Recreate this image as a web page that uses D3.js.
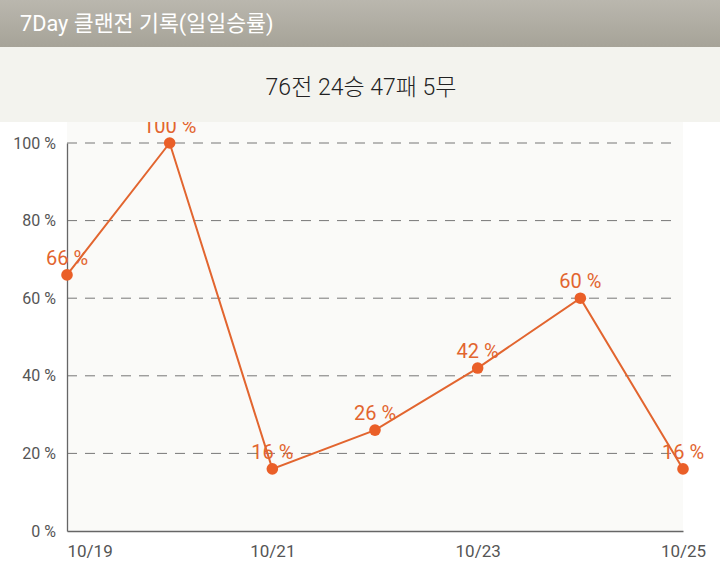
<!DOCTYPE html>
<html>
<head>
<meta charset="utf-8">
<script src="https://cdn.jsdelivr.net/npm/d3@7"></script>
<style>
  body { margin: 0; background: #fff; }
  text { font-family: Roboto, "Noto Sans CJK KR", sans-serif; }
</style>
</head>
<body>
<div id="main"></div>
<script>
var W = 720, H = 582;

var titleText = "7Day 클랜전 기록(일일승률)";
var summaryText = "76전 24승 47패 5무";
var days = ["10/19", "10/20", "10/21", "10/22", "10/23", "10/24", "10/25"];
var winRate = [66, 100, 16, 26, 42, 60, 16];
var yTicks = [0, 20, 40, 60, 80, 100];
var xTickDays = ["10/19", "10/21", "10/23", "10/25"];

var margin = { top: 143, right: 37, bottom: 51, left: 67 },
  width = W - margin.left - margin.right,
  height = H - margin.top - margin.bottom;

var orange = "#e2652f";

var svg = d3.select("#main").append("svg")
  .attr("width", W)
  .attr("height", H);

var defs = svg.append("defs");
var grad = defs.append("linearGradient")
  .attr("id", "hdr").attr("x1", 0).attr("y1", 0).attr("x2", 0).attr("y2", 1);
grad.append("stop").attr("offset", "0%").attr("stop-color", "#bab7ae");
grad.append("stop").attr("offset", "100%").attr("stop-color", "#a6a398");

defs.append("clipPath").attr("id", "chartClip")
  .append("rect").attr("x", 0).attr("y", 122).attr("width", W).attr("height", H - 122);

var chart = svg.append("g").attr("clip-path", "url(#chartClip)");
var g = chart.append("g")
  .attr("transform", "translate(" + margin.left + "," + margin.top + ")");

var x = d3.scalePoint().domain(days).range([0, width]);
var y = d3.scaleLinear().domain([0, 100]).range([height, 0]);

// plot background
g.append("rect")
  .attr("x", 0).attr("y", y(100) - 22)
  .attr("width", width).attr("height", height + 22)
  .attr("fill", "#fafaf8");

// dashed grid
g.selectAll(".grid").data(yTicks.filter(d => d > 0)).enter()
  .append("line")
  .attr("x1", 0).attr("x2", width - 6)
  .attr("y1", d => y(d)).attr("y2", d => y(d))
  .attr("stroke", "#777")
  .attr("stroke-width", 1)
  .attr("stroke-dasharray", "10,8");

// axes
var yAxis = g.append("g")
  .call(d3.axisLeft(y).tickValues(yTicks).tickSize(0).tickPadding(11).tickFormat(d => d + " %"));
yAxis.select(".domain").attr("stroke", "#666").attr("stroke-width", 1.3);
yAxis.selectAll("text").attr("fill", "#555").style("font-size", "16px");

var xAxis = g.append("g")
  .attr("transform", "translate(0," + height + ")")
  .call(d3.axisBottom(x).tickValues(xTickDays).tickSize(0).tickPadding(14));
xAxis.select(".domain").attr("stroke", "#666").attr("stroke-width", 1.3);
xAxis.selectAll("text").attr("fill", "#555").style("font-size", "17px")
  .attr("text-anchor", (d, i) => i === 0 ? "start" : "middle");

// line
var pts = days.map((d, i) => ({ day: d, v: winRate[i] }));
g.append("path")
  .datum(pts)
  .attr("fill", "none")
  .attr("stroke", orange)
  .attr("stroke-width", 2)
  .attr("d", d3.line().x(d => x(d.day)).y(d => y(d.v)));

g.selectAll(".dot").data(pts).enter()
  .append("circle")
  .attr("cx", d => x(d.day)).attr("cy", d => y(d.v))
  .attr("r", 5.8)
  .attr("fill", "#ea5f28");

g.selectAll(".lbl").data(pts).enter()
  .append("text")
  .attr("x", d => x(d.day)).attr("y", d => y(d.v) - 10)
  .attr("text-anchor", "middle")
  .attr("fill", orange)
  .style("font-size", "20px")
  .text(d => d.v + " %");

// header
svg.append("rect").attr("x", 0).attr("y", 0).attr("width", W).attr("height", 47).attr("fill", "url(#hdr)");
svg.append("text")
  .attr("x", 20).attr("y", 31)
  .attr("fill", "#fff")
  .style("font-size", "21.7px")
  .text(titleText);

// summary band
svg.append("rect").attr("x", 0).attr("y", 47).attr("width", W).attr("height", 75).attr("fill", "#f3f3ee");
svg.append("text")
  .attr("x", W / 2 + 1).attr("y", 95)
  .attr("text-anchor", "middle")
  .attr("fill", "#222")
  .style("font-size", "23px")
  .style("font-weight", 300)
  .text(summaryText);
</script>
</body>
</html>
